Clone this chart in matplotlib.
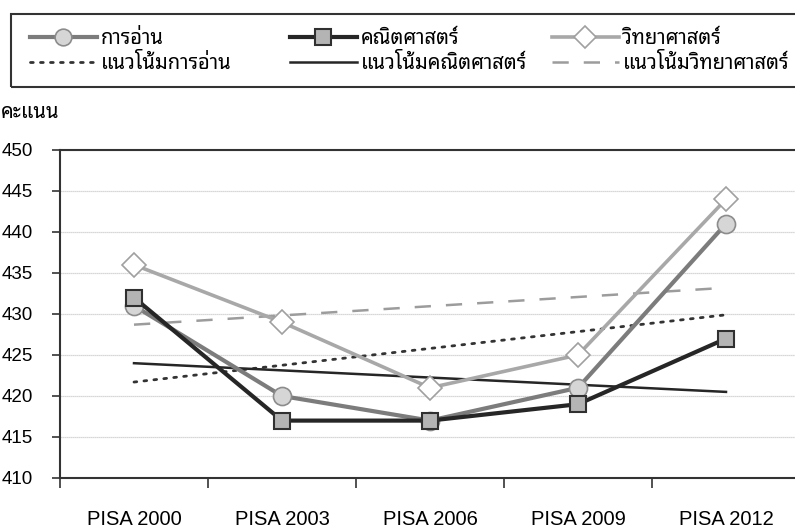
import matplotlib
matplotlib.use("Agg")
import matplotlib.pyplot as plt
from matplotlib.lines import Line2D
from matplotlib.patches import Rectangle

years = ["PISA 2000", "PISA 2003", "PISA 2006", "PISA 2009", "PISA 2012"]
reading = [431, 420, 417, 421, 441]
math_ = [432, 417, 417, 419, 427]
science = [436, 429, 421, 425, 444]
# trend lines at first and last survey
reading_trend = [421.7, 429.9]
math_trend = [424.0, 420.5]
science_trend = [428.7, 433.2]

labels = ["การอ่าน", "คณิตศาสตร์", "วิทยาศาสตร์"]
trend_labels = ["แนวโน้มการอ่าน", "แนวโน้มคณิตศาสตร์", "แนวโน้มวิทยาศาสตร์"]

thai = ["Noto Sans Thai Looped", "DejaVu Sans"]
latin = "Liberation Sans"

# styles: line, trend line
styles = [
    dict(color="#7c7c7c", lw=3, marker="o", ms=13, mfc="#d6d6d6", mec="#8c8c8c", mew=1.2),
    dict(color="#262626", lw=3, marker="s", ms=12, mfc="#b4b4b4", mec="#303030", mew=1.5),
    dict(color="#a8a8a8", lw=2.6, marker="D", ms=12, mfc="white", mec="#a0a0a0", mew=1.2),
]
trend_styles = [
    dict(color="#333333", lw=2, ls=(0, (1, 2.6)), dash_capstyle="round"),
    dict(color="#262626", lw=1.8),
    dict(color="#9c9c9c", lw=1.8, ls=(0, (6.5, 6))),
]

fig = plt.figure(figsize=(7.95, 5.28), dpi=100)
ax = fig.add_axes([60/795, 50/528, 740/795, 328/528])
x = list(range(len(years)))
series = [reading, math_, science]
trends = [reading_trend, math_trend, science_trend]
zs = [4, 5, 3]
for s, st, z in zip(series, styles, zs):
    ax.plot(x, s, zorder=z, **st)
for t, st in zip(trends, trend_styles):
    ax.plot([x[0], x[-1]], t, zorder=2, **st)

ax.set_xlim(-0.5, 4.5)
ax.set_ylim(410, 450)
ax.set_yticks(range(410, 451, 5))
ax.set_xticks([i + 0.5 for i in range(-1, 5)])
ax.set_xticklabels([])
ax.set_xticks(x, minor=True)
ax.set_xticklabels(years, minor=True, fontsize=14.5, family=latin)
ax.tick_params(axis="x", which="major", length=7, width=1.2, color="#333333", direction="out")
ax.tick_params(axis="x", which="minor", length=0, pad=23)
ax.tick_params(axis="y", length=6, width=1.2, color="#333333", pad=13.5, labelsize=13.5)
for lab in ax.get_yticklabels():
    lab.set_family(latin)
ax.grid(axis="y", color="#cacaca", lw=0.9, ls=(0, (1, 0.6)))
ax.set_axisbelow(True)
for s in ["left", "bottom", "top"]:
    ax.spines[s].set_color("#333333")
    ax.spines[s].set_linewidth(1.5)
ax.spines["right"].set_visible(False)

fig.text(1/795, 1 - 113/528, "คะแนน", family=thai, fontsize=14.5, va="center")

# legend: frame plus three equal-width columns
fig.patches.append(Rectangle((11/795, 1 - 87/528), 800/795, 73/528, transform=fig.transFigure,
                             fill=False, edgecolor="#333333", lw=1.5))
col_x = [14, 274, 536]
for i in range(3):
    st = dict(styles[i])
    st["ms"] = st["ms"] - 1
    h = [Line2D([], [], **st), Line2D([], [], **trend_styles[i])]
    fig.legend(h, [labels[i], trend_labels[i]], loc="upper left",
               bbox_to_anchor=(col_x[i]/795, 1 - 13/528), frameon=False,
               handlelength=3.3, handletextpad=0.2, labelspacing=0.25,
               borderpad=0.3, prop={"family": thai, "size": 14.5})

fig.savefig("out.png", dpi=100)
